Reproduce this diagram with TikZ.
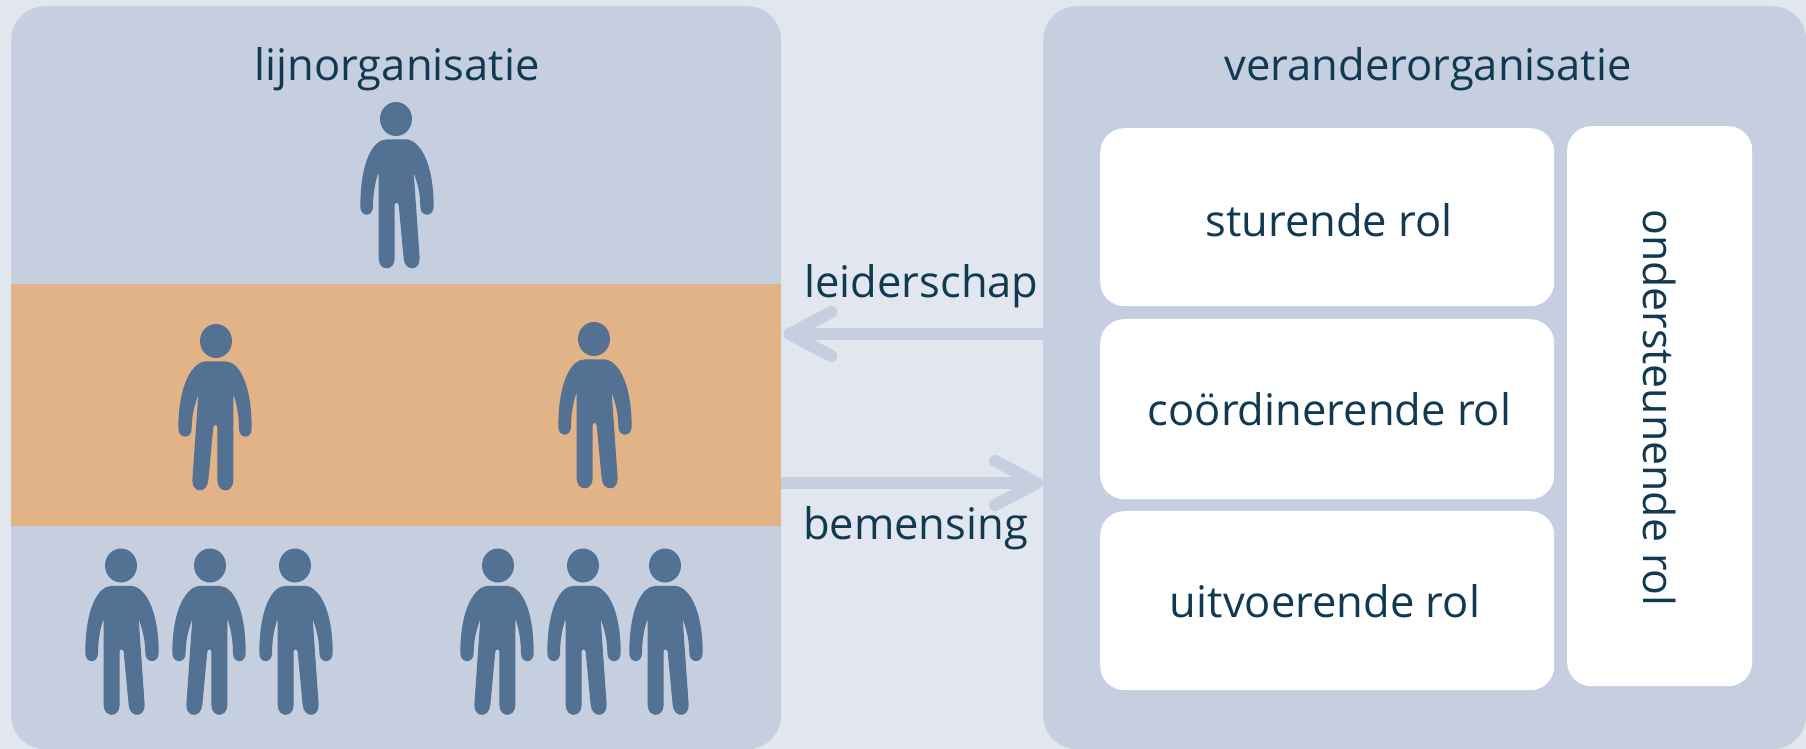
\documentclass[tikz,border=0pt]{standalone}
\usepackage{fontspec}
\setmainfont{Open Sans}
\usetikzlibrary{arrows.meta}
\definecolor{page_bg}{HTML}{E1E6EF}
\definecolor{panel_bg}{HTML}{C5CFDF}
\definecolor{band_bg}{HTML}{E3B388}
\definecolor{person_fg}{HTML}{537192}
\definecolor{label_fg}{HTML}{113A52}
\tikzstyle{panel} = [rectangle, rounded corners=34pt, draw=none, fill=panel_bg, anchor=north west, inner sep=0pt]
\tikzstyle{band} = [rectangle, draw=none, fill=band_bg, anchor=north west, inner sep=0pt]
\tikzstyle{role} = [rectangle, rounded corners=24pt, draw=none, fill=white, anchor=north west, inner sep=0pt]
\tikzstyle{title} = [draw=none, text=label_fg, inner sep=0pt, anchor=base, font=\fontsize{43.5}{52}\selectfont]
\tikzstyle{arrow} = [line width=12pt, draw=panel_bg, -{Straight Barb[length=42pt,width=44pt,round]}]
\tikzset{
	person/.pic={
		\fill [person_fg] (0,0) ellipse (16 and 17);
		\fill [person_fg, x=0.3333pt, y=-0.3333pt] (-27,61)
			.. controls (-70,61) and (-107,130) .. (-107,263)
			.. controls (-107,295) and (-69,295) .. (-69,263)
			.. controls (-69,220) and (-60,180) .. (-52,160)
			-- (-52,418)
			.. controls (-52,458) and (-4,458) .. (-4,418)
			-- (-4,258)
			.. controls (-4,250) and (6,250) .. (8,258)
			-- (23,418)
			.. controls (26,458) and (72,458) .. (71,418)
			-- (53,160)
			.. controls (63,190) and (73,220) .. (73,263)
			.. controls (73,295) and (113,295) .. (113,263)
			.. controls (113,130) and (71,61) .. (28,61)
			-- cycle;
	}
}
\begin{document}
\begin{tikzpicture}[x=1pt, y=-1pt]
	\useasboundingbox (0,0) rectangle (1806,749);
	\clip (0,0) rectangle (1806,749);
	\fill [page_bg] (0,0) rectangle (1806,749);

	\node (lijn) [panel, minimum width=770pt, minimum height=743pt] at (11,6) {};
	\node (verander) [panel, minimum width=763pt, minimum height=743pt] at (1043,6) {};
	\node (midden) [band, minimum width=770pt, minimum height=242pt] at (11,284) {};

	\node (lijn_title) [title] at (397,81) {lijnorganisatie};
	\node (verander_title) [title] at (1428,81) {veranderorganisatie};

	\node (sturende) [role, minimum width=454pt, minimum height=178pt] at (1100,128) {};
	\node (coordinerende) [role, minimum width=454pt, minimum height=180pt] at (1100,319) {};
	\node (uitvoerende) [role, minimum width=454pt, minimum height=179pt] at (1100,511) {};
	\node (ondersteunende) [role, minimum width=185pt, minimum height=560pt] at (1567,126) {};
	\node (sturende_text) [title] at (1329,236) {sturende rol};
	\node (coordinerende_text) [title] at (1329.5,425) {coördinerende rol};
	\node (uitvoerende_text) [title] at (1325,617) {uitvoerende rol};
	\node (ondersteunende_text) [title, rotate=-90, font=\fontsize{42.8}{52}\selectfont] at (1643,408) {ondersteunende rol};

	\coordinate (leiderschap_y) at (0,334);
	\coordinate (bemensing_y) at (0,483);
	\draw [arrow, shorten >=2pt] (verander.west |- leiderschap_y) -- (lijn.east |- leiderschap_y);
	\draw [arrow] (lijn.east |- bemensing_y) -- (verander.west |- bemensing_y);
	\node (leiderschap) [title] at (921.5,297) {leiderschap};
	\node (bemensing) [title] at (915.5,539) {bemensing};

	\pic at (396,119) {person};
	\pic [xscale=-1] at (216,341) {person};
	\pic at (594,339) {person};
	\pic at (121,565.5) {person};
	\pic [xscale=-1] at (210,565.5) {person};
	\pic at (295,565.5) {person};
	\pic [xscale=-1] at (498,565.5) {person};
	\pic at (583,565.5) {person};
	\pic at (665,565.5) {person};
\end{tikzpicture}
\end{document}
